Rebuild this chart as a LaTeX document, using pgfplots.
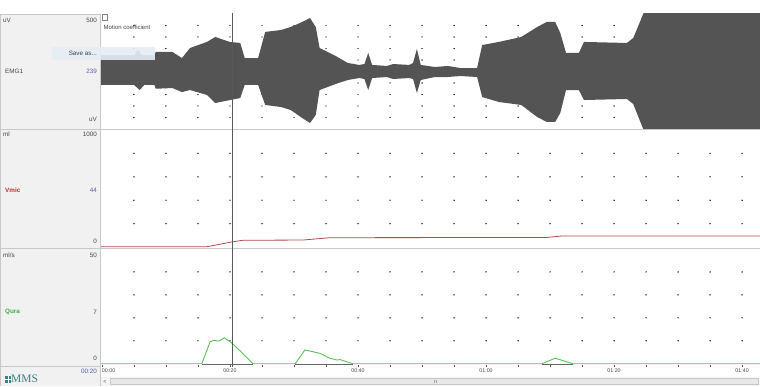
\documentclass[border=0pt]{standalone}
\usepackage{pgfplots}
\pgfplotsset{compat=1.18}
\usepackage{fontspec}
\setmainfont{Liberation Sans}
\newfontfamily\logofont{Liberation Serif}
\definecolor{emg}{HTML}{545454}
\definecolor{panelbg}{HTML}{F1F1F1}
\definecolor{border}{HTML}{C8C8C8}
\definecolor{vred}{HTML}{B04A4A}
\definecolor{vlab}{HTML}{C03030}
\definecolor{qgreen}{HTML}{5CBF5C}
\definecolor{qlab}{HTML}{3CB03C}
\definecolor{bnum}{HTML}{5A5AA8}
\definecolor{mms}{HTML}{3E7E86}
\definecolor{dotc}{HTML}{BDBDBD}
\definecolor{txt}{HTML}{444444}
\definecolor{popup}{HTML}{E6EDF6}
\pgfplotsset{panel/.style={scale only axis, width=659pt, xmin=-0.15, xmax=102.8,
  axis line style={draw=none}, xtick=\empty, ytick=\empty, clip=true, clip mode=individual, anchor=south west}}
\newcommand{\sm}{\fontsize{5.3}{6}\selectfont}
\newcommand{\md}{\fontsize{6.3}{7}\selectfont}
\begin{document}
\begin{tikzpicture}[x=1pt,y=1pt]
\path[use as bounding box] (0,0) rectangle (760,386);
\fill[white] (0,0) rectangle (760,386);
% left panel
\fill[panelbg] (0,0) rectangle (100,372);
\draw[border] (0.5,0) -- (0.5,372) -- (100,372);
\draw[border] (100.5,0) -- (100.5,372);
\draw[border] (0,256.5) -- (760,256.5);
\draw[border] (0,137.5) -- (760,137.5);
\draw[border] (0,20) -- (100,20);
% EMG panel
\begin{axis}[panel, at={(101pt,257pt)}, height=115pt, ymin=-500, ymax=500]
\pgfplotsinvokeforeach{5,10,...,100}{
 \addplot[only marks, mark=*, mark size=0.45pt, mark options={fill=dotc,draw=none}] coordinates {(#1,-400)(#1,-300)(#1,-200)(#1,-100)(#1,100)(#1,200)(#1,300)(#1,400)};
}
\addplot[fill=emg, draw=none] coordinates {
(-0.2,143) (5.0,143) (5.6,187) (6.2,143) (8.2,143) (8.4,170) (11,170) (12.5,117) (13.75,204) (16.4,257) (17.7,300) (20,257) (21.6,248) (22.3,117) (24.4,117) (25.5,344) (28,361) (29.5,387) (31.3,431) (32.5,465) (33.4,387) (34,204) (36.5,135) (38.4,74) (40.2,57) (41.0,65) (41.6,161) (42.2,57) (44.5,48) (45.5,65) (48,57) (48.6,74) (49.2,196) (49.8,57) (52,39) (54,48) (56,30) (58.6,30) (59.4,230) (62,257) (65.5,300) (68,387) (69.5,431) (70.8,431) (71.6,335) (72.5,161) (74.5,161) (75.3,257) (82,248) (83,291) (84.7,520) (103,520)
(103,-520) (84.7,-520) (83,-283) (82,-239) (75.3,-248) (74.5,-161) (72.5,-161) (71.6,-361) (70.8,-439) (69.5,-439) (68,-396) (65.5,-291) (62,-265) (59.4,-222) (58.6,-48) (56,-39) (54,-48) (52,-48) (49.8,-74) (49.2,-187) (48.6,-65) (48,-57) (45.5,-65) (44.5,-48) (42.2,-57) (41.6,-161) (41.0,-65) (40.2,-57) (38.4,-74) (36.5,-109) (34,-161) (33.4,-378) (32.5,-448) (31.3,-405) (29.5,-335) (28,-309) (25.5,-291) (24.4,-117) (22.3,-117) (21.6,-231) (20,-248) (17.7,-274) (16.4,-204) (13.75,-161) (12.5,-179) (11,-144) (8.4,-150) (8.2,-117) (6.6,-117) (5.9,-161) (5.0,-117) (-0.2,-117)
} -- cycle;
\addplot[color=black!65, line width=0.7pt] coordinates {(20.4,-600) (20.4,600)};
\end{axis}
% Vmic panel
\begin{axis}[panel, at={(101pt,138pt)}, height=118pt, ymin=-8, ymax=1000]
\pgfplotsinvokeforeach{5,10,...,100}{
 \addplot[only marks, mark=*, mark size=0.45pt, mark options={fill=dotc,draw=none}] coordinates {(#1,200)(#1,400)(#1,600)(#1,800)};
}
\addplot[color=vred, line width=0.8pt] coordinates {(-0.2,3) (16.4,3) (18.5,25) (20.3,44) (22,58) (31.4,60) (35.6,80) (69.5,82) (71.7,94) (103,95)};
\addplot[color=black!65, line width=0.7pt] coordinates {(20.4,-100) (20.4,1100)};
\end{axis}
% Qura panel
\begin{axis}[panel, at={(101pt,20pt)}, height=117pt, ymin=-1, ymax=50,
  xtick={0,5,...,100}, xtick pos=bottom, tick align=center, major tick length=2.5pt,
  tick style={black!70, line width=0.5pt},
  xticklabels={\makebox[0pt][l]{00:00},,,,00:20,,,,00:40,,,,01:00,,,,01:20,,,,01:40},
  xticklabel style={font=\sm, text=txt, inner sep=1pt}]
\pgfplotsinvokeforeach{5,10,...,100}{
 \addplot[only marks, mark=*, mark size=0.45pt, mark options={fill=dotc,draw=none}] coordinates {(#1,10)(#1,20)(#1,30)(#1,40)};
}
\addplot[color=black!60, line width=0.9pt] coordinates {(15.6,-0.3)(23.6,-0.3)};
\addplot[color=black!60, line width=0.9pt] coordinates {(30.2,-0.3)(39.2,-0.3)};
\addplot[color=black!60, line width=0.9pt] coordinates {(68.75,-0.3)(73.6,-0.3)};
\addplot[color=qgreen, line width=0.9pt] coordinates {(-0.2,0) (15.6,0) (16.9,9.6) (17.5,10.2) (18.0,9.9) (18.4,10) (19.1,11.3) (20.3,9) (21.9,4.7) (23.6,0) (30.2,0) (31.7,6) (33,5.2) (34.1,4.5) (35.6,2.4) (36.7,1.6) (37.2,1.8) (38.3,0.8) (39.2,0) (68.75,0) (70.8,2.4) (73.1,0.4) (73.6,0) (103,0)};
\addplot[color=black!65, line width=0.7pt] coordinates {(20.4,-5) (20.4,60)};
\end{axis}
% header icon and caption
\draw[black!50, fill=white] (102,366) rectangle (107,371.5);
\node[anchor=west, inner sep=0, font=\fontsize{6}{7}\selectfont, text=txt] at (103.5,359) {Motion coefficient};
% popup
\fill[popup, opacity=0.9] (52,326) rectangle (155,339);
\node[anchor=east, inner sep=0, font=\fontsize{6.3}{7}\selectfont, text=txt] at (97,332.5) {Save as...};
% left labels
\node[anchor=west, inner sep=0, font=\md, text=txt] at (3,366) {uV};
\node[anchor=east, inner sep=0, font=\md, text=txt] at (97,366) {500};
\node[anchor=west, inner sep=0, font=\md, text=txt] at (5,315) {EMG1};
\node[anchor=east, inner sep=0, font=\md, text=bnum] at (97,315) {239};
\node[anchor=east, inner sep=0, font=\md, text=txt] at (97,267) {uV};
\node[anchor=west, inner sep=0, font=\md, text=txt] at (3,252) {ml};
\node[anchor=east, inner sep=0, font=\md, text=txt] at (97,252) {1000};
\node[anchor=west, inner sep=0, font=\md\bfseries, text=vlab] at (5,196) {Vmic};
\node[anchor=east, inner sep=0, font=\md, text=bnum] at (97,196) {44};
\node[anchor=east, inner sep=0, font=\md, text=txt] at (97,145) {0};
\node[anchor=west, inner sep=0, font=\md, text=txt] at (3,131) {ml/s};
\node[anchor=east, inner sep=0, font=\md, text=txt] at (97,131) {50};
\node[anchor=west, inner sep=0, font=\md\bfseries, text=qlab] at (5,74) {Qura};
\node[anchor=east, inner sep=0, font=\md, text=txt] at (97,74) {7};
\node[anchor=east, inner sep=0, font=\md, text=txt] at (97,28) {0};
\node[anchor=east, inner sep=0, font=\md, text=bnum] at (97,15) {00:20};
% logo
\fill[mms] (5,3) rectangle (11,10);
\fill[white] (7.8,3) rectangle (8.2,10);
\fill[white] (5,6.3) rectangle (11,6.7);
\node[anchor=west, inner sep=0, text=mms, font=\logofont\fontsize{11.5}{12}\selectfont] at (11,7) {MMS};
% scrollbar
\fill[black!4] (101,0) rectangle (760,9);
\draw[border, fill=black!9] (110,1.5) rectangle (758,7.5);
\node[inner sep=0, font=\sm, text=txt] at (105,4.5) {\textless};
\draw[black!35] (434,3) -- (434,6) (436,3) -- (436,6);
\end{tikzpicture}
\end{document}
